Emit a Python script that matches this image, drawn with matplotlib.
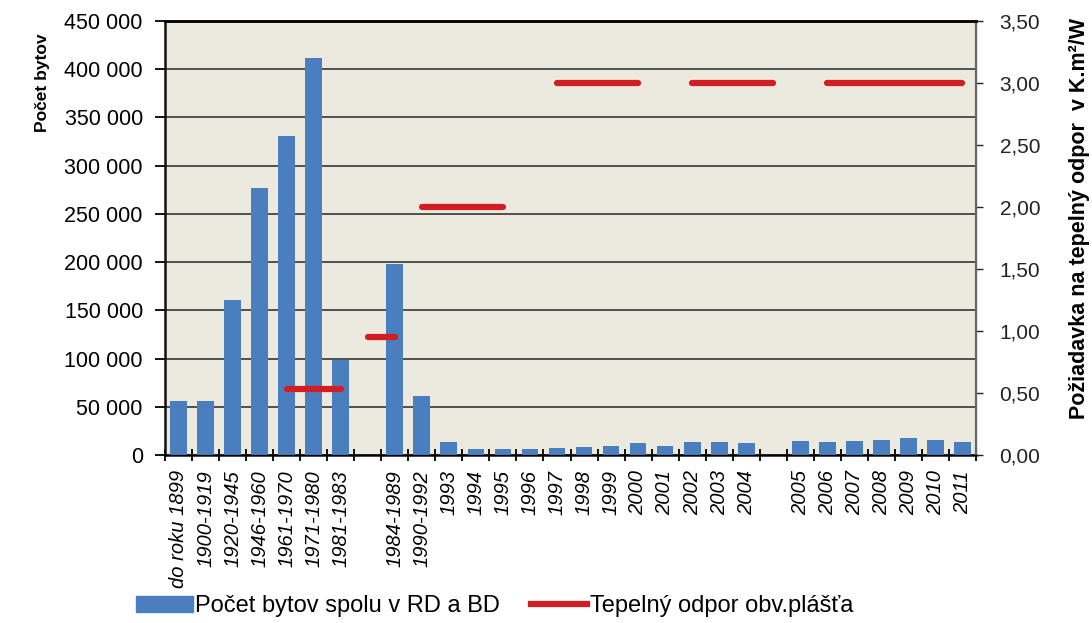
import numpy as np
import matplotlib
matplotlib.use('Agg')
import matplotlib.pyplot as plt
from matplotlib.lines import Line2D
from matplotlib.patches import Patch
from matplotlib.ticker import FuncFormatter, MultipleLocator

plt.rcParams['font.family'] = ['Liberation Sans', 'DejaVu Sans']

# Obdobia výstavby (prázdna položka = medzera na osi)
obdobia = ['do roku 1899', '1900-1919', '1920-1945', '1946-1960', '1961-1970',
           '1971-1980', '1981-1983', '', '1984-1989', '1990-1992', '1993', '1994',
           '1995', '1996', '1997', '1998', '1999', '2000', '2001', '2002', '2003',
           '2004', '', '2005', '2006', '2007', '2008', '2009', '2010', '2011']

# Počet bytov spolu v RD a BD
pocet_bytov = [56000, 56000, 161000, 277000, 331000, 412000, 98000, 0, 198000, 61000,
               13000, 6200, 6000, 6000, 6900, 7900, 9700, 12000, 9700, 13100, 13800,
               12000, 0, 14800, 13100, 14800, 15900, 17200, 15500, 13100]

# Požiadavka na tepelný odpor - úseky (od obdobia, do obdobia, hodnota)
odpor_od = [4, 7, 9, 14, 19, 24]
odpor_do = [6, 8, 12, 17, 22, 29]
odpor_hodnota = [0.53, 0.95, 2.00, 3.00, 3.00, 3.00]

modra = '#4A7EBF'
cervena = '#D01E22'

fig = plt.figure(figsize=(10.92, 6.23), dpi=100)
ax = fig.add_axes([165 / 1092, 1 - 455 / 623, 811 / 1092, 434 / 623])
ax.set_facecolor('#ECE9DF')

x = np.arange(len(obdobia))
ax.bar(x, pocet_bytov, width=0.62, color=modra, zorder=3)
ax.set_xlim(-0.5, len(obdobia) - 0.5)
ax.set_ylim(0, 450000)
ax.yaxis.set_major_locator(MultipleLocator(50000))
ax.yaxis.set_major_formatter(FuncFormatter(lambda v, p: f"{int(v):,}".replace(',', ' ')))
ax.grid(axis='y', color='#444444', lw=1.3, zorder=1)
ax.set_axisbelow(True)

ax.set_xticks(x)
ax.set_xticklabels(obdobia, rotation=90, style='italic', fontsize=14.5)
ax.set_xticks(np.arange(-0.5, len(obdobia), 1), minor=True)
ax.tick_params(axis='x', which='major', length=0, pad=11)
ax.tick_params(axis='x', which='minor', direction='inout', length=9, width=1.3)
ax.tick_params(axis='y', direction='out', length=7, width=1.3, labelsize=15.5, pad=9)

ax.set_ylabel('Počet bytov', fontsize=12.5, fontweight='bold')
ax.yaxis.set_label_coords(-0.142, 0.857)

# pravá os - tepelný odpor
ax2 = ax.twinx()
for a, b, h in zip(odpor_od, odpor_do, odpor_hodnota):
    ax2.plot([a, b], [h, h], color=cervena, lw=4.5, solid_capstyle='round', zorder=4)
ax2.set_ylim(0, 3.5)
ax2.yaxis.set_major_locator(MultipleLocator(0.5))
ax2.yaxis.set_major_formatter(FuncFormatter(lambda v, p: f"{v:.2f}".replace('.', ',')))
ax2.tick_params(axis='y', direction='out', length=5, width=1.0, labelsize=15, pad=12,
                colors='#222222')
ax2.set_ylabel('Požiadavka na tepelný odpor  v K.m²/W', fontsize=15.5, fontweight='bold')
ax2.yaxis.set_label_coords(1.115, 0.544)

for s in ['top', 'left', 'bottom']:
    ax.spines[s].set_color('#111111')
    ax.spines[s].set_linewidth(1.8)
ax2.spines['top'].set_linewidth(1.8)
ax2.spines['right'].set_color('#666666')
ax2.spines['right'].set_linewidth(1.6)
ax2.spines['left'].set_visible(False)

fig.legend(handles=[Patch(color=modra), Line2D([], [], color=cervena, lw=4.5)],
           labels=['Počet bytov spolu v RD a BD', 'Tepelný odpor obv.plášťa'],
           loc='center', bbox_to_anchor=(0.453, 0.027), ncol=2, frameon=False,
           fontsize=17, handlelength=2.4, handletextpad=0.1, columnspacing=1.3)

fig.savefig('out.png', dpi=100)
